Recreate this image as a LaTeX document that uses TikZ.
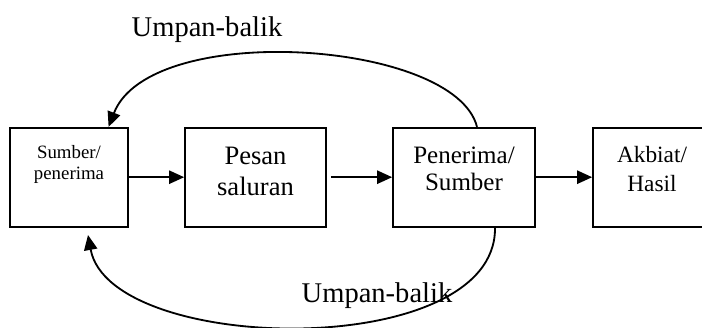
\documentclass[tikz,border=0pt]{standalone}
\usepackage{fontspec}
\setmainfont{Liberation Serif}
\usetikzlibrary{arrows.meta}

\tikzset{
  blok/.style={draw, line width=1.2pt, minimum width=#1, minimum height=2.475cm, inner sep=0pt},
  panah/.style={-{Triangle[length=0.375cm,width=0.33cm]}, line width=1.3pt},
  teks/.style={align=center, inner sep=0pt},
  judul/.style={font=\fontsize{20.3}{24}\selectfont, inner sep=0pt},
}

\begin{document}
\begin{tikzpicture}
        \useasboundingbox (0,0) rectangle (17.55,8.2);

        % kotak
        \node[blok=2.95cm] (sumber) at (1.725,3.77) {};
        \node[blok=3.525cm] (pesan) at (6.3875,3.77) {};
        \node[blok=3.55cm] (terima) at (11.6,3.77) {};
        \node[blok=3.1cm] (hasil) at (16.375,3.77) {};

        % isi kotak
        \node[teks, font=\fontsize{13.4}{15}\selectfont] (sumbertxt) at ([yshift=0.325cm]sumber.center) {Sumber/\\penerima};
        \node[teks, font=\fontsize{18.9}{22.5}\selectfont] (pesantxt) at ([yshift=0.14cm]pesan.center) {Pesan\\saluran};
        \node[teks, font=\fontsize{17.8}{19.2}\selectfont] (terimatxt) at ([yshift=0.21cm]terima.center) {Penerima/\\Sumber};
        \node[teks, font=\fontsize{16.6}{20.6}\selectfont] (hasiltxt) at ([xshift=-0.075cm,yshift=0.21cm]hasil.center) {Akbiat/\\Hasil};

        % alur
        \draw[panah] (sumber) -- (pesan);
        \draw[panah, shorten <=0.1cm] (pesan) -- (terima);
        \draw[panah] (terima) -- (hasil);

        % umpan-balik atas
        \draw[panah] ([xshift=0.325cm]terima.north) .. controls (11.375,7.2) and (3.75,7.7) .. ([xshift=0.99cm]sumber.north);
        \node[judul] (balikatas) at (5.175,7.46) {Umpan-balik};

        % umpan-balik bawah
        \coordinate (ujung) at (2.2,2.325);
        \draw[panah] ([xshift=0.775cm]terima.south) .. controls (12.425,-0.85) and (2.75,-0.675) .. (ujung);
        \node[judul] (balikbawah) at (9.425,0.8) {Umpan-balik};
      \end{tikzpicture}
\end{document}
